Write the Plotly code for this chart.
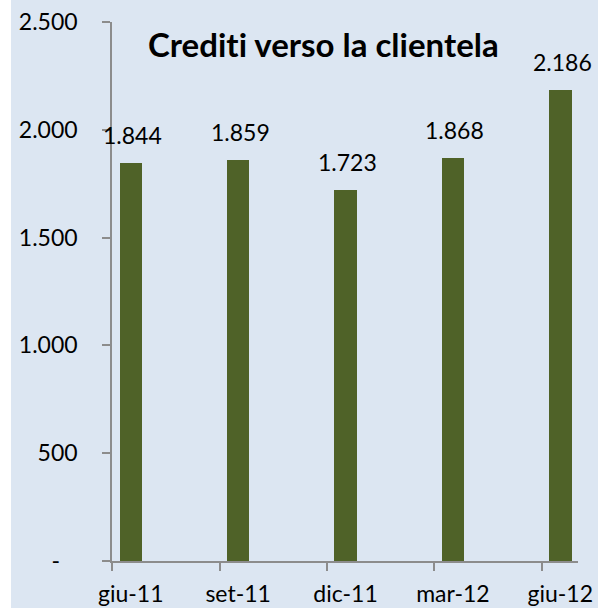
import plotly.graph_objects as go

# ----------- DATA --------- #
periods = ["giu-11", "set-11", "dic-11", "mar-12", "giu-12"]
crediti = [1844, 1859, 1723, 1868, 2186]
value_labels = ["1.844", "1.859", "1.723", "1.868", "2.186"]
y_tickvals = [0, 500, 1000, 1500, 2000, 2500]
y_ticktext = ["-\u00a0\u00a0\u00a0", "500", "1.000", "1.500", "2.000", "2.500"]
title = "Credit\u200ci verso la client\u200cela"   # ZWNJ keeps Lato from using the "ti" ligature

BG = "#DCE6F2"
BAR = "#4F6228"
AXIS = "#8C8C8C"
FONT = "Lato"

x_pos = list(range(len(periods)))
tick_offset = -0.172   # excel ticks sit just left of each bar

fig = go.Figure()

fig.add_trace(go.Bar(
    x=x_pos, y=crediti, width=0.21,
    marker=dict(color=BAR, line=dict(width=0)),
    hoverinfo="skip", showlegend=False,
))

# data labels above the bars
for xi, v, lab in zip(x_pos, crediti, value_labels):
    fig.add_annotation(x=xi, y=v, text=lab, showarrow=False,
                       yanchor="middle", yshift=28, xshift=2,
                       font=dict(family=FONT, size=23, color="black"))

# title inside the plot area
fig.add_annotation(xref="paper", yref="paper", x=0.453, y=0.96,
                   text="<b>" + title + "</b>", showarrow=False,
                   xanchor="center", yanchor="middle",
                   font=dict(family=FONT, size=33, color="black"))

# thin white strip on the left edge of the picture
fig.add_shape(type="rect", xref="paper", yref="paper",
              x0=-0.245, x1=-0.2167, y0=-0.2, y1=1.1,
              fillcolor="white", line=dict(width=0), layer="above")

fig.update_layout(
    width=598, height=608,
    margin=dict(l=112, r=20, t=22, b=47, autoexpand=False),
    paper_bgcolor=BG, plot_bgcolor=BG,
    font=dict(family=FONT, size=23, color="black"),
    bargap=0,
)

fig.update_xaxes(
    range=[-0.175, 4.165], automargin=False,
    tickvals=x_pos, ticktext=periods, ticks="",
    minor=dict(tickvals=[p + tick_offset for p in x_pos], ticks="outside",
               ticklen=8, tickwidth=1.5, tickcolor=AXIS, showgrid=False),
    showline=True, linecolor=AXIS, linewidth=1.5,
    showgrid=False, zeroline=False, ticklabelstandoff=12,
    tickfont=dict(family=FONT, size=23, color="black"),
)
fig.update_yaxes(
    range=[0, 2500], automargin=False,
    tickvals=y_tickvals, ticktext=y_ticktext,
    ticks="outside", ticklen=8, tickwidth=1.5, tickcolor=AXIS,
    showline=True, linecolor=AXIS, linewidth=1.5,
    showgrid=False, zeroline=False, ticklabelstandoff=20,
    tickfont=dict(family=FONT, size=23, color="black"),
)

fig.write_html("out.html", config={"displayModeBar": False},
               post_script="document.body.style.margin='0';")
